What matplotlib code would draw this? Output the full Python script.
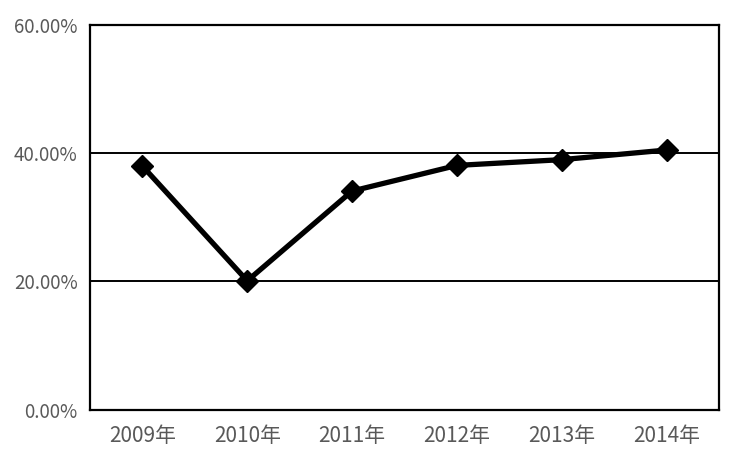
import matplotlib
matplotlib.use('Agg')

import matplotlib.pyplot as plt
from matplotlib.ticker import FuncFormatter

plt.rcParams['font.family'] = ['Noto Sans CJK SC', 'DejaVu Sans']

# 数据
years = ['2009年', '2010年', '2011年', '2012年', '2013年', '2014年']
rates = [38.0, 20.1, 34.1, 38.1, 39.0, 40.5]
yticks = [0, 20, 40, 60]

W, H = 741, 466
fig = plt.figure(figsize=(W / 100, H / 100), dpi=100)
ax = fig.add_axes([90 / W, (H - 409.7) / H, (719 - 90) / W, (409.7 - 25) / H])

x = range(len(years))
ax.plot(x, rates, color='black', linewidth=3.8, marker='D', markersize=11,
        markerfacecolor='black', markeredgecolor='black', zorder=3)

ax.set_xlim(-0.5, len(years) - 0.5)
ax.set_ylim(0, 60)
ax.set_xticks(list(x))
ax.set_xticklabels(years)
ax.set_yticks(yticks)
ax.yaxis.set_major_formatter(FuncFormatter(lambda v, p: f'{v:.2f}%'))

for v in yticks[1:-1]:
    ax.axhline(v, color='black', linewidth=1.4, zorder=1)

for s in ax.spines.values():
    s.set_linewidth(1.6)
    s.set_color('black')

ax.tick_params(length=0, colors='#595959')
ax.tick_params(axis='x', labelsize=15, pad=11)
ax.tick_params(axis='y', labelsize=13.5, pad=9)
for lbl in ax.get_xticklabels() + ax.get_yticklabels():
    lbl.set_fontweight('light')

fig.savefig('out.png', dpi=100)
